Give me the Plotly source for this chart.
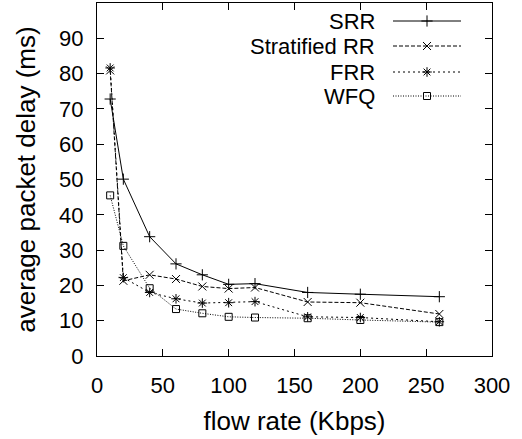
import plotly.graph_objects as go

flow_rate = [10, 20, 40, 60, 80, 100, 120, 160, 200, 260]
srr = [72.8, 50.1, 33.8, 26.1, 23.0, 20.3, 20.5, 18.0, 17.5, 16.8]
stratified_rr = [80.9, 21.3, 23.0, 21.8, 19.7, 19.1, 19.4, 15.3, 15.1, 11.9]
frr = [81.6, 22.2, 18.0, 16.2, 15.0, 15.1, 15.4, 11.1, 10.9, 9.7]
wfq = [45.5, 31.2, 19.2, 13.3, 12.1, 11.1, 10.9, 10.7, 10.2, 9.6]

series_names = ["SRR", "Stratified RR", "FRR", "WFQ"]
series_values = [srr, stratified_rr, frr, wfq]
dashes = ["solid", "4px,2px", "2px,3px", "1px,1.5px"]
symbols = ["cross-thin-open", "x-thin-open", "asterisk-open", "square-open"]
sizes = [8, 8, 8, 7]

x_ticks = [0, 50, 100, 150, 200, 250, 300]
y_ticks = [0, 10, 20, 30, 40, 50, 60, 70, 80, 90]

FONT = "Liberation Sans, Arial, sans-serif"
FS = 22
fig = go.Figure()

for name, vals, d, s, sz in zip(series_names, series_values, dashes, symbols, sizes):
    fig.add_trace(go.Scatter(
        x=flow_rate, y=vals, mode="lines+markers", name=name,
        line=dict(color="black", width=1, dash=d),
        marker=dict(symbol=s, size=sz, color="black", line=dict(color="black", width=1)),
        showlegend=False,
    ))

# legend (gnuplot style: text left, sample right) on a pixel-mapped overlay axis
W, H = 522, 439
L, R, T, B = 97, 30, 3, 83
leg_y = [21, 46, 72, 96]
text_x = 377
line_x0, line_x1 = 393, 461
for name, d, s, sz, ly in zip(series_names, dashes, symbols, sizes, leg_y):
    fig.add_trace(go.Scatter(
        x=[line_x0, line_x1], y=[ly, ly], mode="lines", xaxis="x2", yaxis="y2",
        line=dict(color="black", width=1, dash=d), showlegend=False, hoverinfo="skip"))
    fig.add_trace(go.Scatter(
        x=[(line_x0 + line_x1) / 2], y=[ly], mode="markers", xaxis="x2", yaxis="y2",
        marker=dict(symbol=s, size=sz, color="black", line=dict(color="black", width=1)),
        showlegend=False, hoverinfo="skip"))
    fig.add_annotation(x=text_x, y=ly, xref="x2", yref="y2", text=name,
                       showarrow=False, xanchor="right", yanchor="middle",
                       font=dict(family=FONT, size=FS, color="black"))

fig.update_layout(
    width=W, height=H,
    margin=dict(l=L, r=R, t=T, b=B),
    plot_bgcolor="white", paper_bgcolor="white",
    font=dict(family=FONT, size=FS, color="black"),
    xaxis=dict(range=[0, 300], tickvals=x_ticks, ticks="inside", ticklen=7,
               showgrid=False, zeroline=False, showline=True, linecolor="black",
               linewidth=1, mirror="allticks", tickcolor="black", automargin=False,
               ticklabelstandoff=10,
               title=dict(text="flow rate (Kbps)", standoff=14)),
    yaxis=dict(range=[0, 100], tickvals=y_ticks, ticks="inside", ticklen=7,
               showgrid=False, zeroline=False, showline=True, linecolor="black",
               linewidth=1, mirror="allticks", tickcolor="black", automargin=False,
               ticklabelstandoff=8,
               title=dict(text="average packet delay (ms)", standoff=16)),
    xaxis2=dict(range=[L, W - R], overlaying="x", visible=False, fixedrange=True),
    yaxis2=dict(range=[H - B, T], overlaying="y", visible=False, fixedrange=True),
)

fig.write_html("out.html", config={"displayModeBar": False},
               post_script="document.body.style.margin='0';")
